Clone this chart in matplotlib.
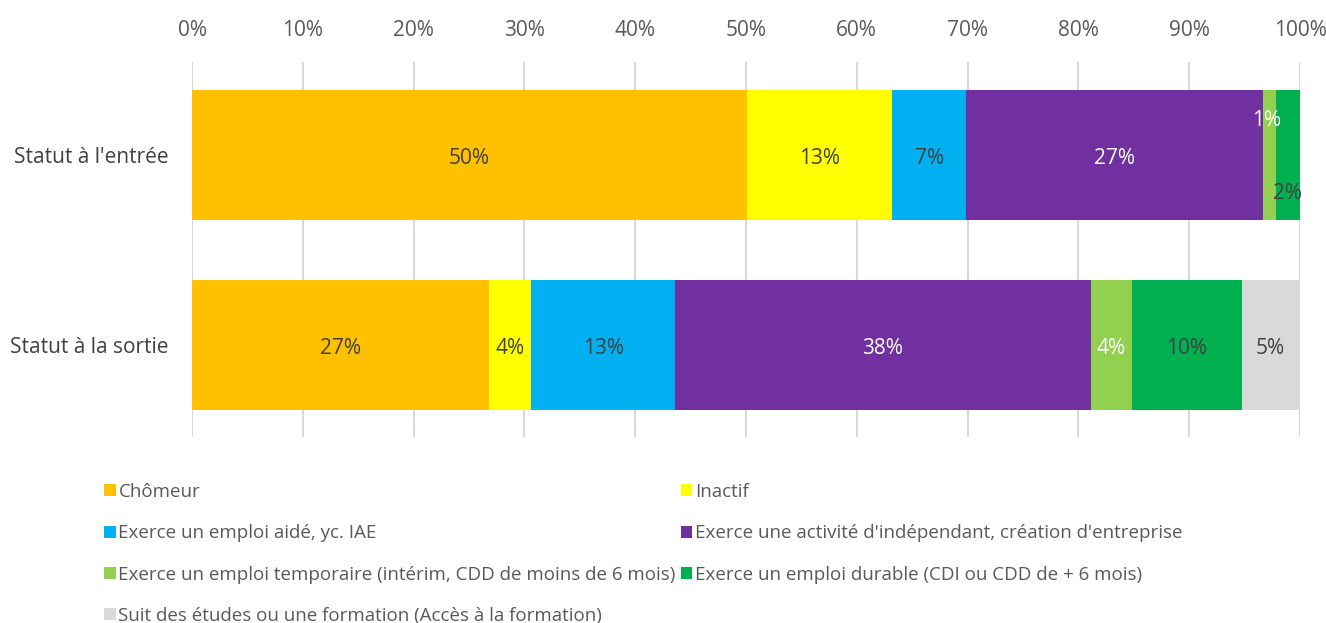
import matplotlib
matplotlib.use("Agg")
import matplotlib.pyplot as plt
import numpy as np

plt.rcParams['font.family'] = ['Open Sans', 'DejaVu Sans']

categories = ["Statut à l'entrée", "Statut à la sortie"]
series = [
    "Chômeur",
    "Inactif",
    "Exerce un emploi aidé, yc. IAE",
    "Exerce une activité d'indépendant, création d'entreprise",
    "Exerce un emploi temporaire (intérim, CDD de moins de 6 mois)",
    "Exerce un emploi durable (CDI ou CDD de + 6 mois)",
    "Suit des études ou une formation (Accès à la formation)",
]
entree = [50.1, 13.1, 6.7, 26.8, 1.1, 2.2, 0.0]
sortie = [26.8, 3.8, 13.0, 37.5, 3.7, 10.0, 5.1]
ticks = [0, 10, 20, 30, 40, 50, 60, 70, 80, 90, 100]

colors = ["#FFC000", "#FFFF00", "#00B0F0", "#7030A0", "#92D050", "#00B050", "#D9D9D9"]
# label colour per series (dark text except on purple / light green bars)
label_colors = {
    (0, 3): "white", (0, 4): "white",
    (1, 3): "white", (1, 4): "white",
}
# manual offsets (points) for the tiny segments on the first row
label_offsets = {(0, 4): (-2, 27), (0, 5): (0, -25)}

fig = plt.figure(figsize=(13.26, 6.23), dpi=100)
ax = fig.add_axes([192 / 1326, 1 - 437 / 623, 1108 / 1326, 375 / 623])

data = np.array([entree, sortie])
y = np.arange(len(categories))
left = np.zeros(len(categories))
bars = []
for j, name in enumerate(series):
    vals = data[:, j]
    b = ax.barh(y, vals, left=left, height=0.684, color=colors[j], label=name,
                zorder=3, linewidth=0)
    bars.append(b)
    for i in range(len(categories)):
        v = vals[i]
        if v <= 0:
            continue
        dx, dy = label_offsets.get((i, j), (0, 0))
        ax.annotate(f"{round(v):.0f}%", (left[i] + v / 2, y[i]),
                    xytext=(dx, dy - 2.5), textcoords="offset points",
                    ha="center", va="center", fontsize=15,
                    color=label_colors.get((i, j), "#404040"), zorder=4)
    left += vals

ax.set_xlim(0, 100)
ax.set_ylim(1.484, -0.489)
ax.set_yticks(y)
ax.set_yticklabels(categories, fontsize=15, color="#404040")
ax.set_xticks(ticks)
ax.set_xticklabels([f"{t}%" for t in ticks], fontsize=15, color="#595959")
ax.xaxis.tick_top()
ax.tick_params(axis="x", length=0, pad=15)
ax.tick_params(axis="y", length=0, pad=17)
ax.grid(axis="x", color="#D9D9D9", linewidth=1.5, zorder=0)
for s in ax.spines.values():
    s.set_visible(False)

order = [0, 2, 4, 6, 1, 3, 5]
fig.legend([bars[k] for k in order], [series[k] for k in order],
           ncol=2, loc="upper left", bbox_to_anchor=(104 / 1326, 1 - 483 / 623),
           frameon=False, fontsize=13.5, labelcolor="#595959",
           handlelength=0.62, handleheight=0.62, handletextpad=0.15,
           columnspacing=0.25, labelspacing=1.24, borderpad=0, borderaxespad=0)

fig.savefig("out.png", dpi=100, facecolor="white")
